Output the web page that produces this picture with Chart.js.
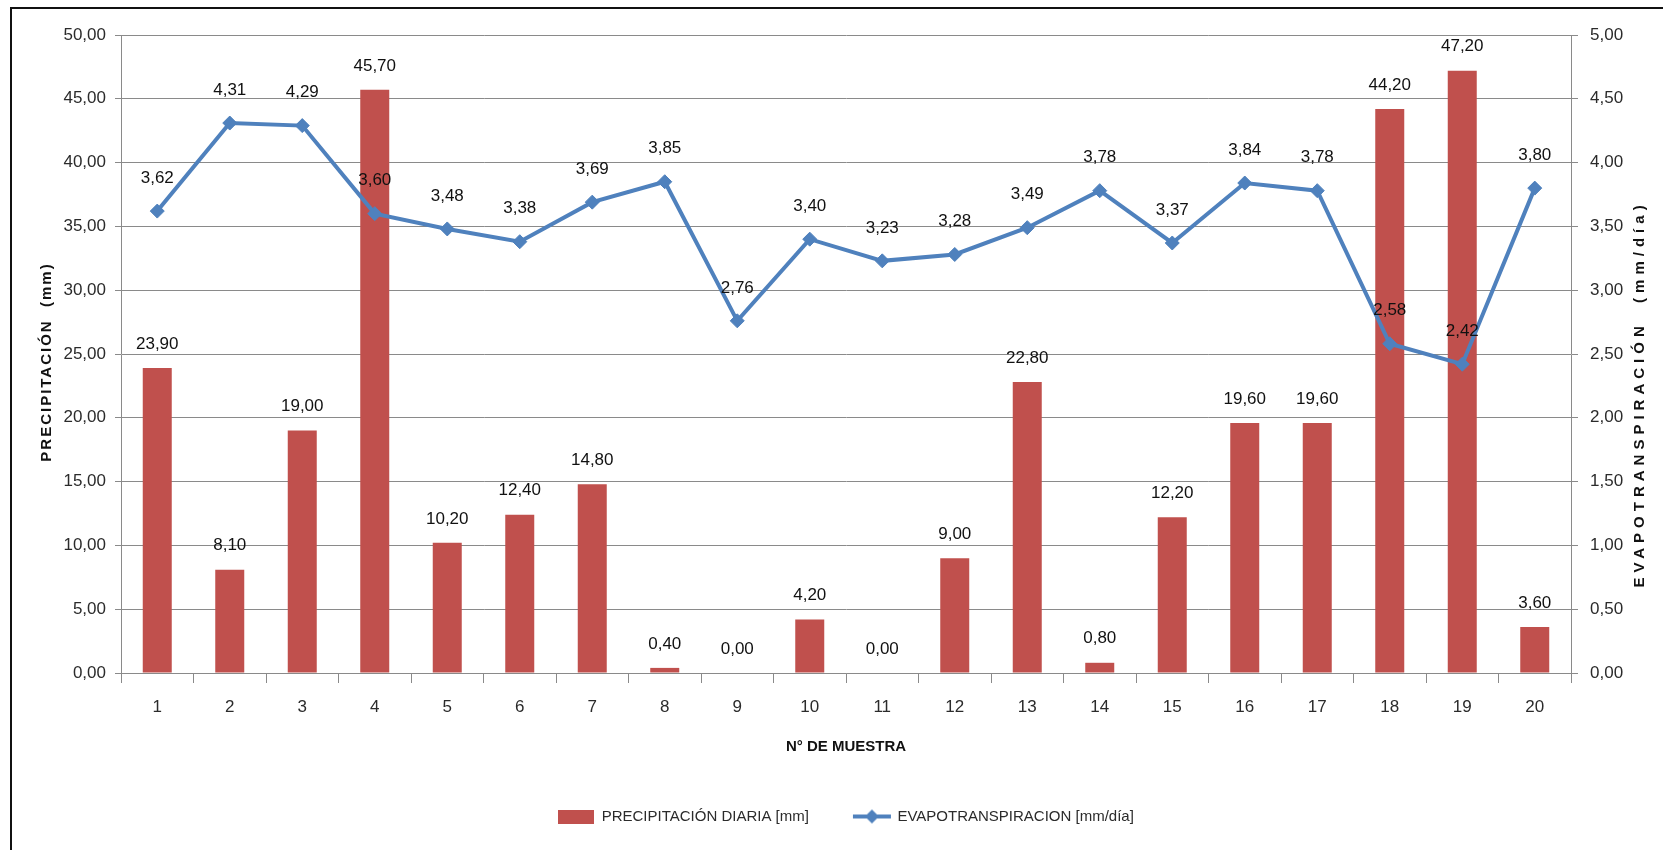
<!DOCTYPE html>
<html>
<head>
<meta charset="utf-8">
<script src="https://cdn.jsdelivr.net/npm/chart.js@4.4.0/dist/chart.umd.min.js"></script>
<style>
html,body{margin:0;padding:0;background:#fff;}
#wrap{width:1663px;height:850px;position:relative;}
</style>
</head>
<body>
<div id="wrap"><canvas id="c" width="1663" height="850"></canvas></div>
<script>
// ---- data ----
const categories = ['1','2','3','4','5','6','7','8','9','10','11','12','13','14','15','16','17','18','19','20'];
const precipitacion = [23.90, 8.10, 19.00, 45.70, 10.20, 12.40, 14.80, 0.40, 0.00, 4.20, 0.00, 9.00, 22.80, 0.80, 12.20, 19.60, 19.60, 44.20, 47.20, 3.60];
const evapotranspiracion = [3.62, 4.31, 4.29, 3.60, 3.48, 3.38, 3.69, 3.85, 2.76, 3.40, 3.23, 3.28, 3.49, 3.78, 3.37, 3.84, 3.78, 2.58, 2.42, 3.80];
const seriesNames = ['PRECIPITACIÓN DIARIA [mm]', 'EVAPOTRANSPIRACION [mm/día]'];
const leftTitle = 'PRECIPITACIÓN  (mm)';
const rightTitle = 'EVAPOTRANSPIRACIÓN  (mm/día)';
const xTitle = 'N° DE MUESTRA';
const leftAxisMax = 50, leftAxisStep = 5;
const rightAxisMax = 5, rightAxisStep = 0.5;

// ---- styles ----
const barColor = '#C0504D';
const lineColor = '#4F81BD';
const gridColor = '#8a8a8a';
const textColor = '#2b2b2b';
const FONT = "'Liberation Sans', Arial, sans-serif";
const fmt = v => Number(v).toFixed(2).replace('.', ',');

function barMarker() {
  const c = document.createElement('canvas'); c.width = 36; c.height = 14;
  const g = c.getContext('2d'); g.fillStyle = barColor; g.fillRect(0, 0, 36, 14); return c;
}
function lineMarker() {
  const c = document.createElement('canvas'); c.width = 40; c.height = 18;
  const g = c.getContext('2d');
  g.strokeStyle = lineColor; g.lineWidth = 4;
  g.beginPath(); g.moveTo(1, 9); g.lineTo(39, 9); g.stroke();
  g.fillStyle = lineColor; g.beginPath();
  g.moveTo(20, 2); g.lineTo(27, 9); g.lineTo(20, 16); g.lineTo(13, 9); g.closePath(); g.fill();
  return c;
}
const markers = [barMarker(), lineMarker()];

const valueLabels = {
  id: 'valueLabels',
  afterDatasetsDraw(chart) {
    const ctx = chart.ctx;
    ctx.save();
    ctx.font = '17px ' + FONT;
    ctx.fillStyle = '#111';
    ctx.textAlign = 'center';
    ctx.textBaseline = 'middle';
    chart.data.datasets.forEach((ds, i) => {
      const meta = chart.getDatasetMeta(i);
      const off = ds.type === 'bar' ? 24 : 33;
      meta.data.forEach((el, j) => {
        ctx.fillText(fmt(ds.data[j]), el.x, el.y - off);
      });
    });
    ctx.restore();
  }
};

const frameAndTitles = {
  id: 'frameAndTitles',
  beforeDraw(chart) {
    const ctx = chart.ctx;
    ctx.save();
    ctx.fillStyle = '#fff';
    ctx.fillRect(0, 0, chart.width, chart.height);
    ctx.strokeStyle = '#111';
    ctx.lineWidth = 2;
    ctx.beginPath();
    ctx.moveTo(11, chart.height); ctx.lineTo(11, 8); ctx.lineTo(chart.width, 8);
    ctx.stroke();
    ctx.restore();
  },
  afterDraw(chart) {
    const ctx = chart.ctx;
    ctx.save();
    ctx.fillStyle = '#111';
    ctx.textAlign = 'center';
    ctx.textBaseline = 'middle';
    ctx.save();
    ctx.font = 'bold 15px ' + FONT;
    ctx.translate(47, 362);
    ctx.rotate(-Math.PI / 2);
    ctx.letterSpacing = '2px';
    ctx.fillText(leftTitle, 0, 0);
    ctx.restore();
    ctx.save();
    ctx.font = 'bold 15px ' + FONT;
    ctx.translate(1640, 394);
    ctx.rotate(-Math.PI / 2);
    ctx.letterSpacing = '5px';
    ctx.fillText(rightTitle, 0, 0);
    ctx.restore();
    ctx.restore();
  }
};

new Chart(document.getElementById('c'), {
  data: {
    labels: categories,
    datasets: [
      {
        type: 'bar',
        label: seriesNames[0],
        data: precipitacion,
        backgroundColor: barColor,
        yAxisID: 'y',
        barPercentage: 0.4,
        categoryPercentage: 1.0,
        order: 2
      },
      {
        type: 'line',
        label: seriesNames[1],
        data: evapotranspiracion,
        borderColor: lineColor,
        backgroundColor: lineColor,
        borderWidth: 4,
        pointStyle: 'rectRot',
        pointRadius: 7,
        pointBackgroundColor: lineColor,
        pointBorderColor: lineColor,
        pointBorderWidth: 1,
        tension: 0,
        yAxisID: 'y1',
        order: 1
      }
    ]
  },
  options: {
    responsive: false,
    devicePixelRatio: 1,
    animation: false,
    layout: { padding: { top: 35, left: 0, right: 0, bottom: 16 } },
    plugins: {
      tooltip: { enabled: false },
      legend: {
        position: 'bottom',
        fullSize: false,
        labels: {
          usePointStyle: true,
          pointStyleWidth: 36,
          boxHeight: 14,
          padding: 45,
          color: textColor,
          font: { family: FONT, size: 15 },
          generateLabels(chart) {
            return chart.data.datasets.map((ds, i) => ({
              text: ds.label,
              pointStyle: markers[i],
              fillStyle: i === 0 ? barColor : lineColor,
              strokeStyle: i === 0 ? barColor : lineColor,
              lineWidth: 0,
              hidden: false,
              datasetIndex: i,
              fontColor: textColor
            }));
          }
        }
      }
    },
    scales: {
      x: {
        type: 'category',
        offset: true,
        grid: { display: true, drawOnChartArea: false, drawTicks: true, tickLength: 10, color: gridColor, offset: true },
        border: { display: true, color: gridColor, width: 1 },
        ticks: { color: textColor, font: { family: FONT, size: 17 }, padding: 14, maxRotation: 0 },
        title: { display: true, text: xTitle, color: '#111', font: { family: FONT, size: 15, weight: 'bold' }, padding: { top: 0, bottom: 8 } },
        afterFit(s) { s.height = 91; }
      },
      y: {
        position: 'left',
        min: 0, max: leftAxisMax,
        ticks: { stepSize: leftAxisStep, color: textColor, font: { family: FONT, size: 17 }, padding: 9, callback: v => fmt(v) },
        grid: { color: gridColor, tickLength: 6, lineWidth: 1 },
        border: { display: true, color: gridColor, width: 1 },
        afterFit(s) { s.width = 121; }
      },
      y1: {
        position: 'right',
        min: 0, max: rightAxisMax,
        ticks: { stepSize: rightAxisStep, color: textColor, font: { family: FONT, size: 17 }, padding: 12, callback: v => fmt(v) },
        grid: { drawOnChartArea: false, color: gridColor, tickLength: 7 },
        border: { display: true, color: gridColor, width: 1 },
        afterFit(s) { s.width = 92; }
      }
    }
  },
  plugins: [frameAndTitles, valueLabels]
});
</script>
</body>
</html>
